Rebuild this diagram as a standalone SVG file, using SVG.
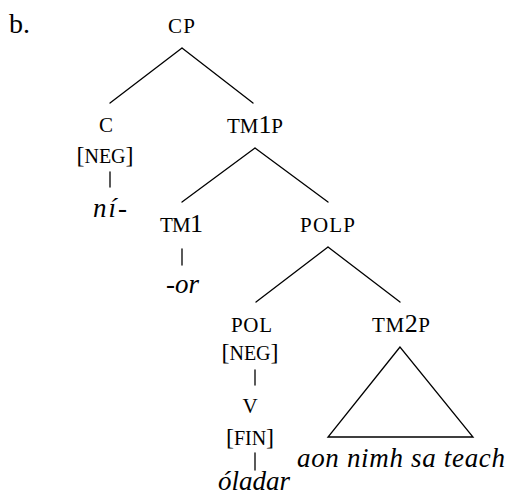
<svg xmlns="http://www.w3.org/2000/svg" width="508" height="500" viewBox="0 0 508 500">
  <style>
    text { font-family: "Liberation Serif", "Times New Roman", serif; font-size: 26px; fill: #000; text-anchor: middle; }
    .sc { font-size: 21px; }
    .feat { font-size: 20px; }
    .big { font-size: 26px; }
    .br { font-size: 24px; }
    .it { font-style: italic; font-size: 27px; }
    .edge { stroke: #000; stroke-width: 1.3; fill: none; stroke-linecap: round; }
  </style>
  <rect width="508" height="500" fill="#fff"/>

  <text x="9" y="33" style="text-anchor:start; font-size:28px">b.</text>

  <!-- branches -->
  <g id="connectors">
    <path class="edge" d="M182 48 L110 103 M182 48 L253 103"/>
    <path class="edge" d="M255 148 L182 202 M255 148 L328 202"/>
    <path class="edge" d="M328 247 L256 302 M328 247 L400 302"/>
    <path class="edge" d="M110 172 V187"/>
    <path class="edge" d="M182 249 V265"/>
    <path class="edge" d="M255 370 V385"/>
    <path class="edge" d="M255 453 V470"/>
    <path class="edge" d="M400 347 L328 437 L473 437 Z"/>
  </g>

  <!-- category labels: small capitals set as reduced uppercase -->
  <g id="cp"><text class="sc" x="181.5" y="33" textLength="27" lengthAdjust="spacing">CP</text></g>

  <g id="c">
    <text class="sc" x="106" y="132">C</text>
    <text class="feat" x="105" y="163"><tspan class="br">[</tspan>NEG<tspan class="br">]</tspan></text>
  </g>
  <g id="ni"><text class="it" x="110" y="217" textLength="34" lengthAdjust="spacing">ní-</text></g>

  <g id="tm1p"><text class="sc" x="255" y="133" textLength="56" lengthAdjust="spacing">TM<tspan class="big">1</tspan>P</text></g>

  <g id="tm1"><text class="sc" x="181.5" y="232" textLength="43" lengthAdjust="spacing">TM<tspan class="big">1</tspan></text></g>
  <g id="or"><text class="it" x="182.5" y="293" textLength="33" lengthAdjust="spacing">-or</text></g>

  <g id="polp"><text class="sc" x="327.5" y="232" textLength="55" lengthAdjust="spacing">POLP</text></g>

  <g id="pol">
    <text class="sc" x="251.5" y="332" textLength="41" lengthAdjust="spacing">POL</text>
    <text class="feat" x="250" y="360"><tspan class="br">[</tspan>NEG<tspan class="br">]</tspan></text>
  </g>
  <g id="v">
    <text class="sc" x="250" y="413">V</text>
    <text class="feat" x="250" y="445"><tspan class="br">[</tspan>FIN<tspan class="br">]</tspan></text>
  </g>
  <g id="oladar"><text class="it" x="254" y="490" textLength="72" lengthAdjust="spacing">óladar</text></g>

  <g id="tm2p"><text class="sc" x="401" y="332" textLength="58" lengthAdjust="spacing">TM<tspan class="big">2</tspan>P</text></g>
  <g id="tm2p-yield"><text class="it" x="401" y="467" textLength="208" lengthAdjust="spacing">aon nimh sa teach</text></g>
</svg>
